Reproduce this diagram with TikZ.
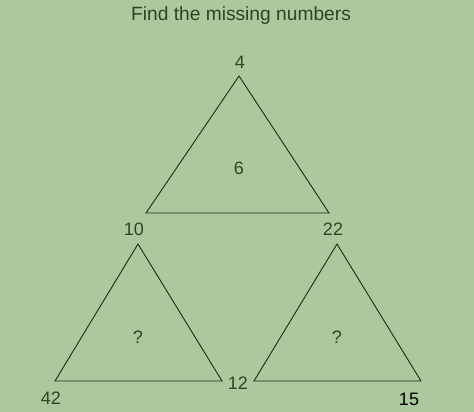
\documentclass[tikz,border=0pt]{standalone}
\usepackage{fontspec}
\setmainfont{Liberation Sans}
\usepackage{tikz}
\usetikzlibrary{positioning,calc}
\definecolor{bggreen}{HTML}{ABC99D}
\definecolor{inkgreen}{HTML}{2B4527}
\definecolor{edgegreen}{HTML}{1C2A18}

\begin{document}
\begin{tikzpicture}[
    x=1pt, y=-1pt,
    tri/.style={draw=edgegreen, line width=0.9pt, line join=miter},
    num/.style={text=inkgreen, font=\fontsize{18}{20}\selectfont, inner sep=0pt},
    title/.style={text=inkgreen, font=\fontsize{19.2}{22}\selectfont, inner sep=0pt},
]
  \fill[bggreen] (0,0) rectangle (474,412);
  \useasboundingbox (0,0) rectangle (474,412);

  % corners of the three triangles
  \coordinate (topA) at (239,76);
  \coordinate (topL) at (146,213);
  \coordinate (topR) at (329,213);
  \coordinate (leftA) at (138,244);
  \coordinate (leftL) at (55,381);
  \coordinate (leftR) at (222,381);
  \coordinate (rightA) at (337,244);
  \coordinate (rightL) at (254,381);
  \coordinate (rightR) at (421,381);

  \draw[tri] (topA) -- (topL) -- (topR) -- cycle;
  \draw[tri] (leftA) -- (leftL) -- (leftR) -- cycle;
  \draw[tri] (rightA) -- (rightL) -- (rightR) -- cycle;

  \node[title] (head) at (241,16) {Find the missing numbers};

  \node[num] (n4) at (240,62) {4};
  \node[num] (n6) at (239,168) {6};
  \node[num] (n10) at (134,229) {10};
  \node[num] (n22) at (333,229) {22};
  \node[num] (q1) at (138,337) {?};
  \node[num] (q2) at (337,337) {?};
  \node[num] (n42) at (51,398) {42};
  \node[num] (n12) at (238,383) {12};
  \node[num, text=black] (n15) at (409,399) {15};
\end{tikzpicture}
\end{document}
